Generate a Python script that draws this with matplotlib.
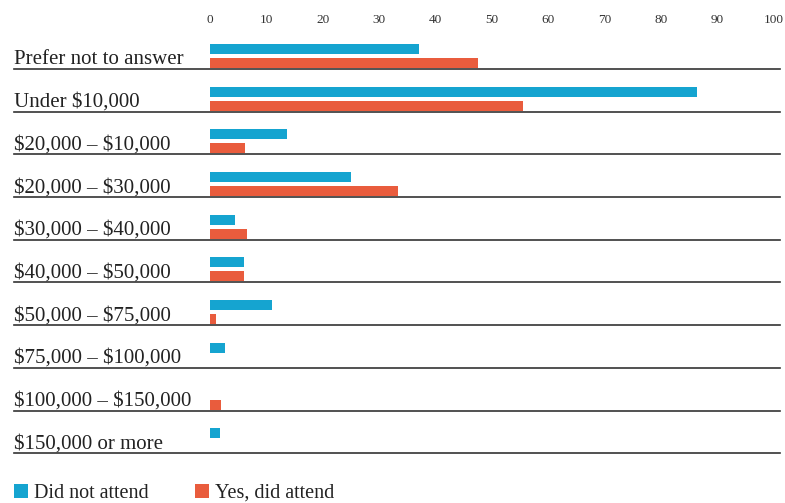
import matplotlib.pyplot as plt

# %% data
categories = [
    "Prefer not to answer",
    "Under $10,000",
    "$20,000 – $10,000",
    "$20,000 – $30,000",
    "$30,000 – $40,000",
    "$40,000 – $50,000",
    "$50,000 – $75,000",
    "$75,000 – $100,000",
    "$100,000 – $150,000",
    "$150,000 or more",
]
did_not_attend = [37, 86.3, 13.7, 25, 4.4, 6, 11, 2.6, 0, 1.8]
did_attend = [47.5, 55.5, 6.2, 33.3, 6.5, 6, 1, 0, 2, 0]
ticks = [0, 10, 20, 30, 40, 50, 60, 70, 80, 90, 100]

blue = "#15a4d0"
red = "#e95c3d"
serif = ["Liberation Serif", "DejaVu Serif"]
plt.rcParams["font.family"] = serif
plt.rcParams["text.parse_math"] = False

# %% plot
W, H = 785, 503
fig = plt.figure(figsize=(W / 100, H / 100), dpi=100)
top_px, bot_px = 26.3, 455.4
ax = fig.add_axes([14 / W, 1 - bot_px / H, 766 / W, (bot_px - top_px) / H])

row_px = 42.67
lines = [i + 1 for i in range(len(categories))]
blue_y = [l - 20 / row_px for l in lines]
red_y = [l - 6 / row_px for l in lines]
h = 10 / row_px

ax.barh(blue_y, did_not_attend, height=h, color=blue, label="Did not attend")
ax.barh(red_y, did_attend, height=h, color=red, label="Yes, did attend")

xmin, xmax = -34.75, 101.06
for l, cat in zip(lines, categories):
    ax.plot([xmin, xmax], [l, l], color="#333333", lw=1.2, clip_on=False)
    ax.text(xmin, l - 5 / row_px, cat, fontsize=15, va="baseline", ha="left",
            color="#222222")

ax.set_xlim(xmin, xmax)
ax.set_ylim(10.05, 0)
ax.set_xticks(ticks)
ax.set_xticklabels([str(t) for t in ticks], fontsize=9.5, color="#333333")
ax.xaxis.tick_top()
ax.tick_params(axis="x", length=0, pad=0)
ax.set_yticks([])
for s in ax.spines.values():
    s.set_visible(False)

handles, labels = ax.get_legend_handles_labels()
fig.legend(handles, labels, loc="lower left", bbox_to_anchor=(14 / W, 0),
           ncol=2, frameon=False, fontsize=14.5, handlelength=0.7,
           handleheight=0.7, handletextpad=0.3, columnspacing=2.3,
           borderpad=0, borderaxespad=0, labelcolor="#222222")

fig.savefig("out.png", dpi=100)
